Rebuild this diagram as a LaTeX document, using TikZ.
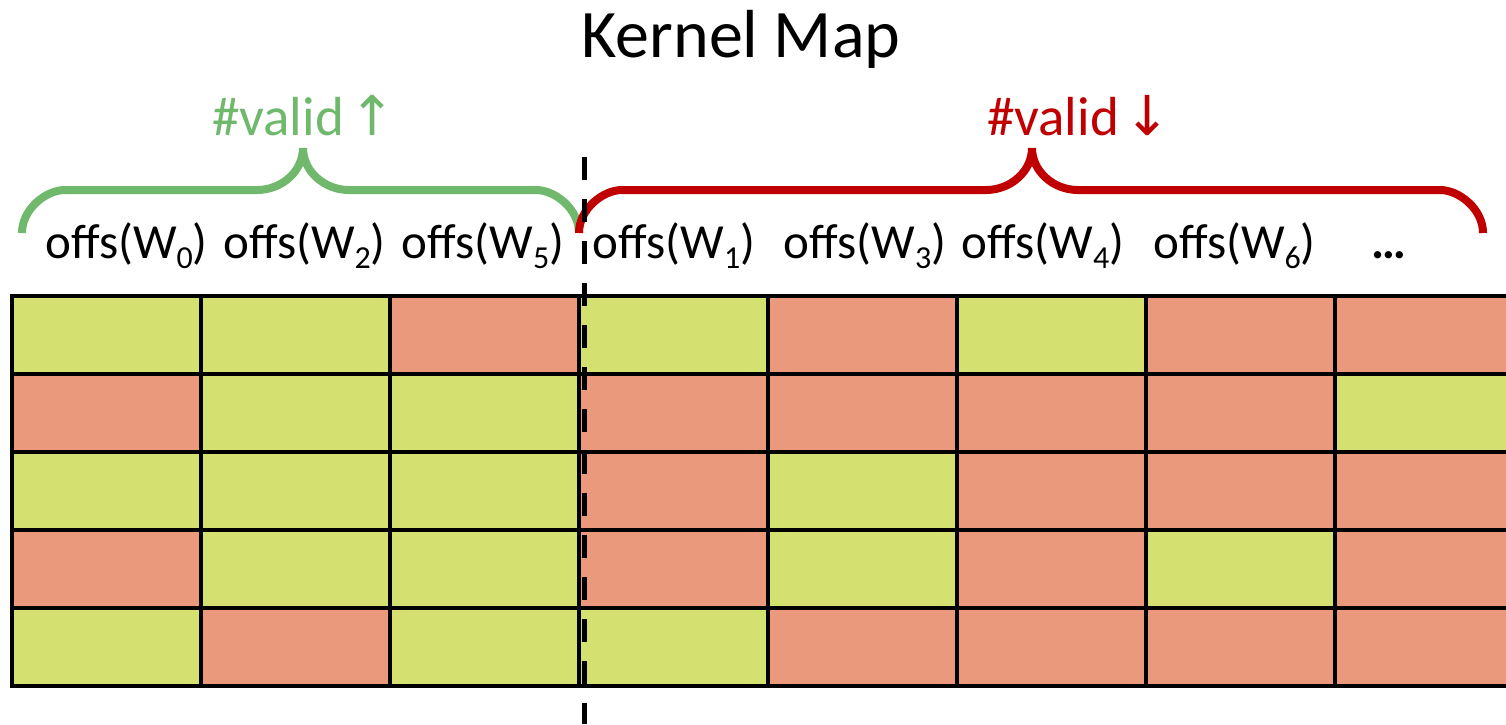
\documentclass[tikz,border=0pt]{standalone}
\usepackage{fontspec}
\setmainfont{Carlito}
\newfontfamily\arrowfont{DejaVu Sans}
\usetikzlibrary{calc}

\definecolor{cellG}{HTML}{D4E170}
\definecolor{cellR}{HTML}{EB997D}
\definecolor{upgreen}{HTML}{70B86C}
\definecolor{downred}{HTML}{C00000}

% lowered, smaller index digit
\newcommand\offsub[1]{\raisebox{-10pt}{\fontsize{32}{32}\selectfont #1}}

\begin{document}
\begin{tikzpicture}[x=1pt,y=-1pt,
  cell/.style={draw=black, line width=4pt, minimum width=189pt, minimum height=78pt,
               inner sep=0pt, outer sep=0pt},
  lab/.style={anchor=base, inner sep=0pt, font=\fontsize{49}{58}\selectfont},
  headline/.style={anchor=base, inner sep=0pt, font=\fontsize{68}{80}\selectfont},
  validlab/.style={anchor=base, inner sep=0pt, font=\fontsize{55}{64}\selectfont},
  brace/.style={line width=8pt, line cap=butt},
  divider/.style={line width=5pt, dash pattern=on 23pt off 19pt}]

\useasboundingbox (0,0) rectangle (1506,724);
\clip (0,0) rectangle (1506,724);

% title
\node[headline] (title) at (741,57) {Kernel Map};

% grid of kernel map entries (G = valid, R = invalid)
\foreach [count=\r from 0] \rowcols in
  {{G,G,R,G,R,G,R,R},
   {R,G,G,R,R,R,R,G},
   {G,G,G,R,G,R,R,R},
   {R,G,G,R,G,R,G,R},
   {G,R,G,G,R,R,R,R}} {
  \foreach [count=\c from 0] \col in \rowcols {
    \node[cell, fill=cell\col] (cell-\r-\c) at ({12+189*\c+94.5},{296+78*\r+39}) {};
  }
}

% column labels
\node[lab] (oW0) at (126.5,258) {offs(W\offsub{0})};
\node[lab] (oW2) at (304.5,258) {offs(W\offsub{2})};
\node[lab] (oW5) at (483,258) {offs(W\offsub{5})};
\node[lab] (oW1) at (674,258) {offs(W\offsub{1})};
\node[lab] (oW3) at (865,258) {offs(W\offsub{3})};
\node[lab] (oW4) at (1043,258) {offs(W\offsub{4})};
\node[lab] (oW6) at (1234.5,258) {offs(W\offsub{6})};
\node[lab] (odots) at (1389,258) {\textbf{…}};

% group braces
\coordinate (gL) at (22,233);
\coordinate (gT) at (303,148);
\coordinate (gR) at (579,233);
\draw[brace, upgreen] (gL) .. controls +(0,-24) and +(-19,0) .. ++(43,-43)
  -- ($(gT)+(-46,42)$) .. controls +(25,0) and +(0,23) .. (gT)
  .. controls +(0,23) and +(-25,0) .. ($(gT)+(46,42)$)
  -- ($(gR)+(-43,-43)$) .. controls +(19,0) and +(0,-24) .. (gR);

\coordinate (rL) at (579,233);
\coordinate (rT) at (1032,148);
\coordinate (rR) at (1483,233);
\draw[brace, downred] (rL) .. controls +(0,-24) and +(-19,0) .. ++(43,-43)
  -- ($(rT)+(-46,42)$) .. controls +(25,0) and +(0,23) .. (rT)
  .. controls +(0,23) and +(-25,0) .. ($(rT)+(46,42)$)
  -- ($(rR)+(-43,-43)$) .. controls +(19,0) and +(0,-24) .. (rR);

% brace labels
\node[validlab, text=upgreen] (vup) at (304,135) {\#valid\hspace{6pt}{\arrowfont ↑}};
\node[validlab, text=downred] (vdown) at (1079,135) {\#valid\hspace{6pt}{\arrowfont ↓}};

% split between the two groups
\coordinate (divtop) at (584,157);
\coordinate (divbot) at (584,724);
\draw[divider] (divtop) -- (divbot);
\end{tikzpicture}
\end{document}
